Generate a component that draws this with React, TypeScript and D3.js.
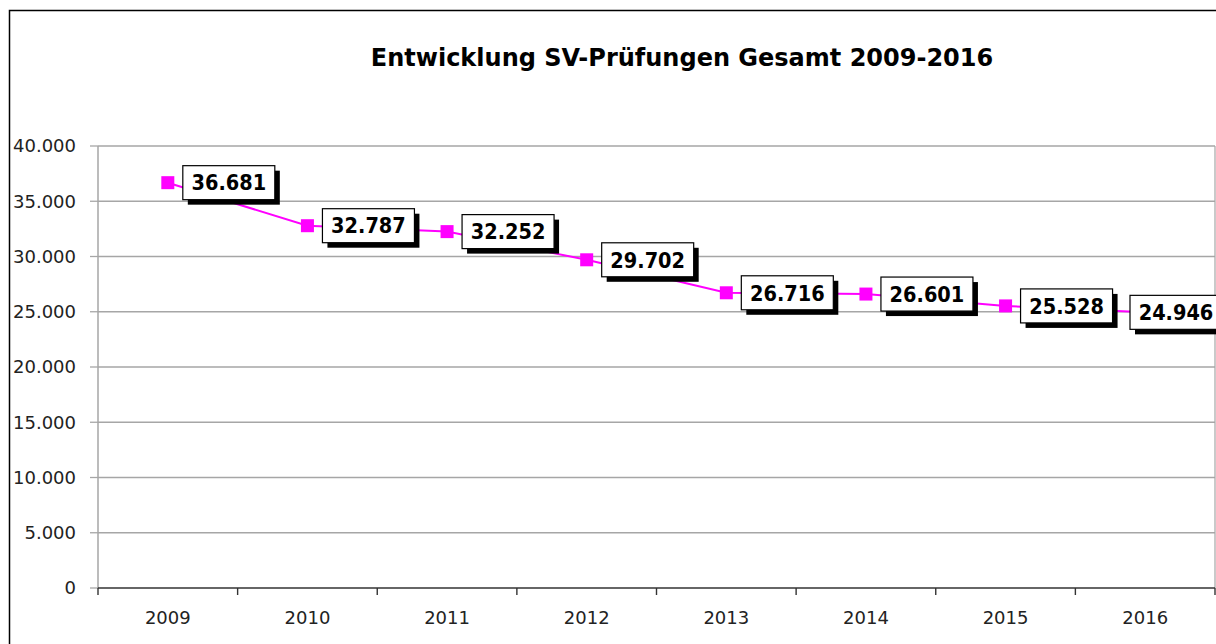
import React from "react";
import * as d3 from "d3";

const years = ["2009", "2010", "2011", "2012", "2013", "2014", "2015", "2016"];
const values = [36681, 32787, 32252, 29702, 26716, 26601, 25528, 24946];
const yTicks = [0, 5000, 10000, 15000, 20000, 25000, 30000, 35000, 40000];
const title = "Entwicklung SV-Prüfungen Gesamt 2009-2016";

const W = 1216;
const H = 644;
const plot = { left: 98, right: 1215, top: 146, bottom: 588 };
const FONT = "'DejaVu Sans', Verdana, sans-serif";
const FONT_COND = "'DejaVu Sans Condensed', 'DejaVu Sans', sans-serif";

const fmt = (v: number) => {
  if (v === 0) return "0";
  return d3.format(",")(v).replace(/,/g, ".");
};

export default function App() {
  const x = d3.scaleBand<string>().domain(years).range([plot.left, plot.right]).padding(0);
  const y = d3.scaleLinear().domain([0, 40000]).range([plot.bottom, plot.top]);
  const cx = (yr: string) => (x(yr) as number) + x.bandwidth() / 2;
  const line = d3
    .line<number>()
    .x((_, i) => cx(years[i]))
    .y((d) => y(d));

  const boxW = 92;
  const boxH = 34;
  const shadow = 5;

  return (
    <svg
      width={W}
      height={H}
      style={{ position: "absolute", left: 0, top: 0, background: "#fff" }}
    >
      <rect x={0} y={0} width={W} height={H} fill="#fff" />
      <rect x={9.5} y={10.5} width={1400} height={800} fill="none" stroke="#000" strokeWidth={1.5} />
      <text
        x={682}
        y={66}
        textAnchor="middle"
        fontFamily={FONT}
        fontWeight="bold"
        fontSize={24}
        fill="#000"
      >
        {title}
      </text>
      {/* gridlines */}
      {yTicks.map((t) => (
        <g key={t}>
          {t > 0 && (
            <line x1={plot.left} x2={plot.right} y1={y(t)} y2={y(t)} stroke="#a6a6a6" strokeWidth={1.3} />
          )}
          <line x1={90} x2={plot.left} y1={y(t)} y2={y(t)} stroke="#a6a6a6" strokeWidth={1.3} />
          <text
            x={76}
            y={y(t)}
            dy="0.36em"
            textAnchor="end"
            fontFamily={FONT}
            fontSize={18}
            fill="#222"
          >
            {fmt(t)}
          </text>
        </g>
      ))}
      <line x1={plot.left} x2={plot.left} y1={plot.top} y2={plot.bottom} stroke="#a6a6a6" strokeWidth={1.5} />
      <line x1={plot.right} x2={plot.right} y1={plot.top} y2={plot.bottom} stroke="#a6a6a6" strokeWidth={1.2} />
      {/* x axis */}
      <line x1={plot.left} x2={plot.right} y1={plot.bottom} y2={plot.bottom} stroke="#333" strokeWidth={1.6} />
      {years.map((yr) => (
        <line
          key={"t" + yr}
          x1={x(yr) as number}
          x2={x(yr) as number}
          y1={plot.bottom}
          y2={plot.bottom + 7}
          stroke="#333"
          strokeWidth={1.4}
        />
      ))}
      <line x1={plot.right} x2={plot.right} y1={plot.bottom} y2={plot.bottom + 7} stroke="#333" strokeWidth={1.4} />
      {years.map((yr) => (
        <text
          key={"l" + yr}
          x={cx(yr)}
          y={624}
          textAnchor="middle"
          fontFamily={FONT}
          fontSize={18}
          fill="#222"
        >
          {yr}
        </text>
      ))}
      {/* line */}
      <path d={line(values) || ""} fill="none" stroke="#ff00ff" strokeWidth={2} />
      {values.map((v, i) => (
        <rect
          key={"m" + i}
          x={cx(years[i]) - 6.5}
          y={y(v) - 6.5}
          width={13}
          height={13}
          fill="#ff00ff"
        />
      ))}
      {/* labels */}
      {values.map((v, i) => {
        const bx = Math.min(cx(years[i]) + 15, plot.right - boxW + 7);
        const by = y(v) - boxH / 2;
        return (
          <g key={"b" + i}>
            <rect x={bx + shadow} y={by + shadow} width={boxW} height={boxH} fill="#000" />
            <rect x={bx} y={by} width={boxW} height={boxH} fill="#fff" stroke="#000" strokeWidth={1.2} />
            <text
              x={bx + boxW / 2}
              y={by + boxH / 2}
              dy="0.36em"
              textAnchor="middle"
              fontFamily={FONT_COND}
              fontWeight="bold"
              fontSize={21.5}
              fill="#000"
            >
              {fmt(v)}
            </text>
          </g>
        );
      })}
    </svg>
  );
}
